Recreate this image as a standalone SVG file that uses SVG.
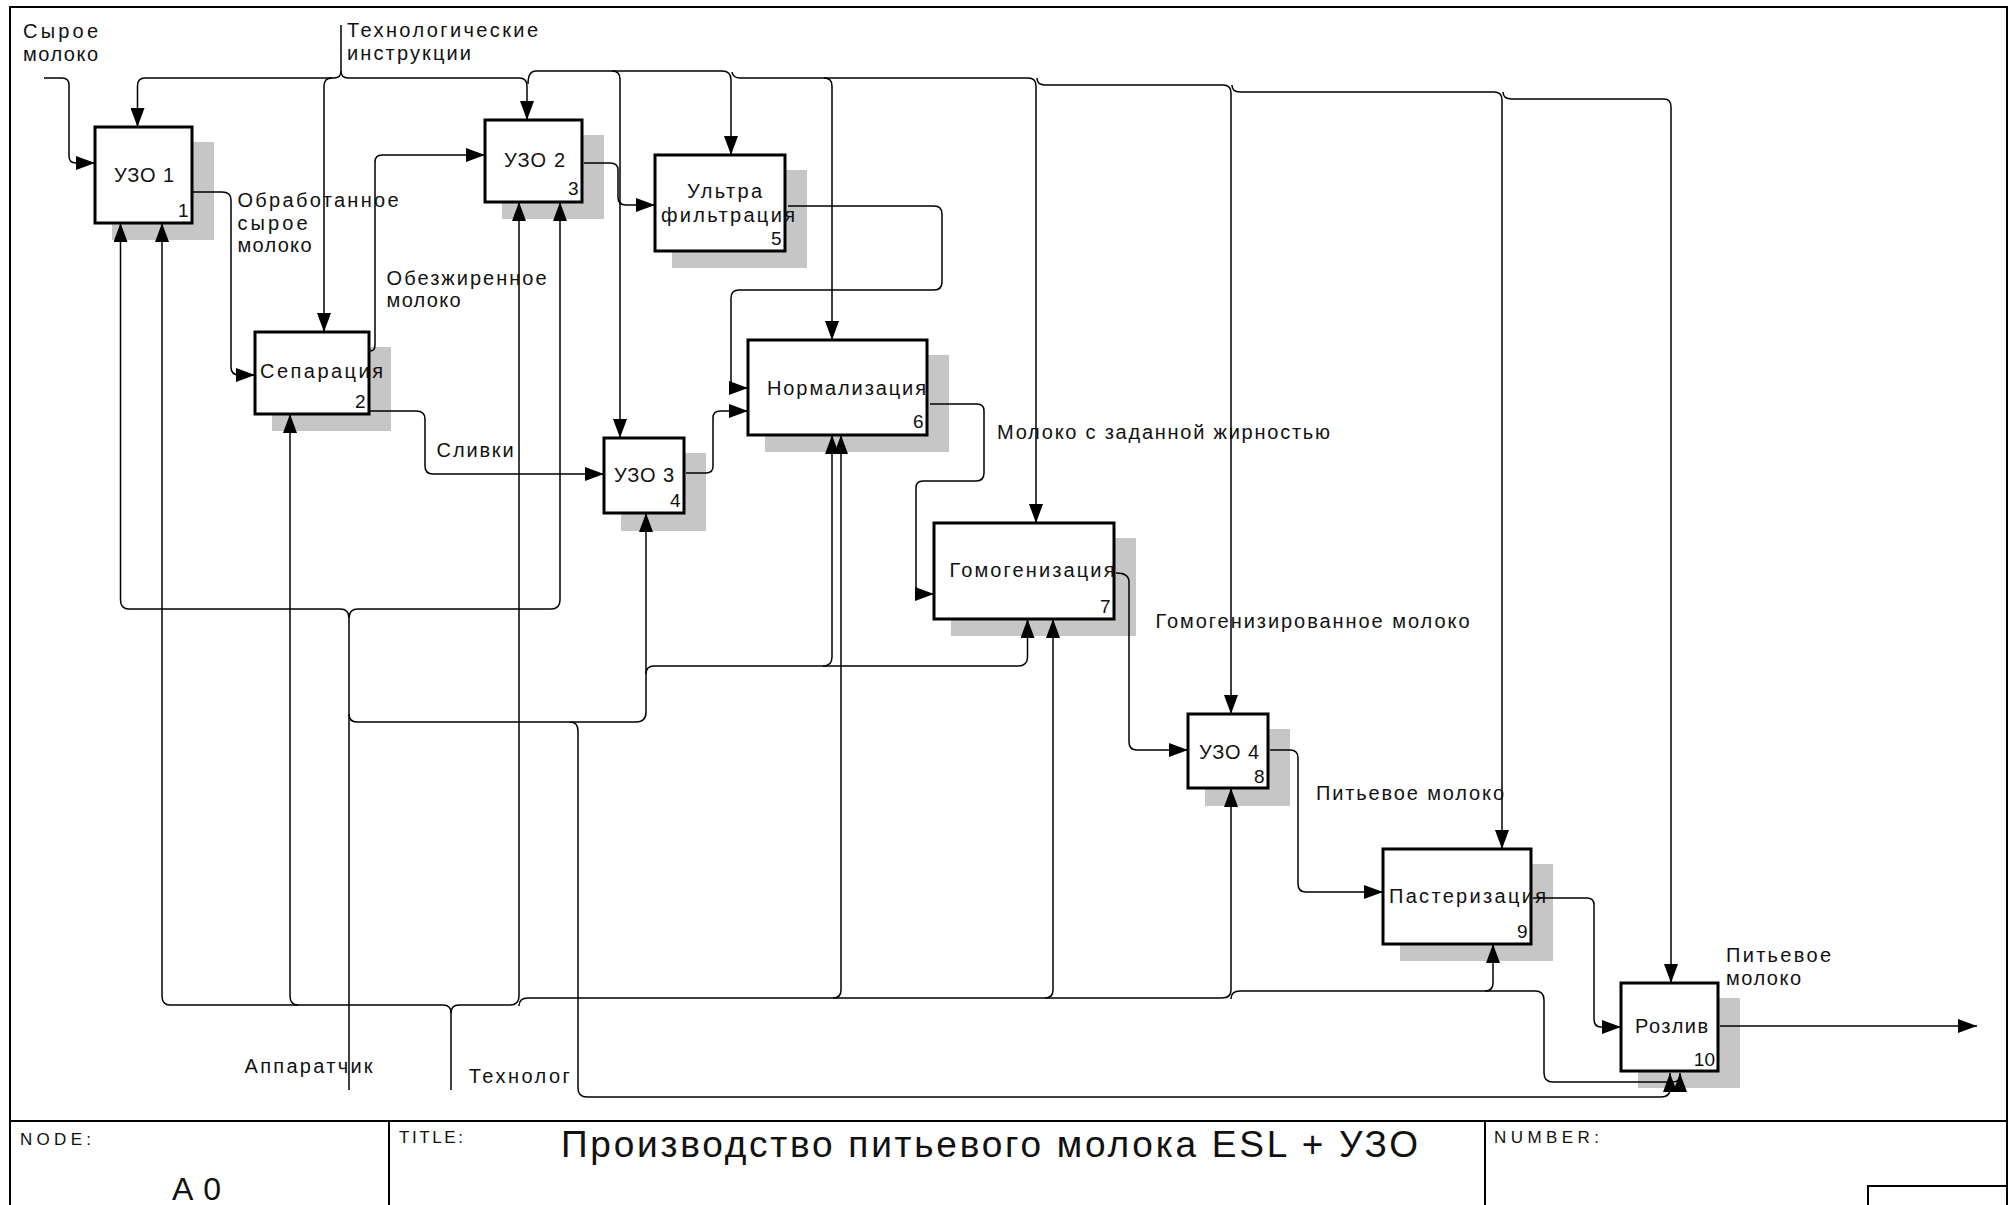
<svg xmlns="http://www.w3.org/2000/svg" width="2015" height="1205" viewBox="0 0 2015 1205">
<style>
text{font-family:"Liberation Sans",Arial,sans-serif;fill:#111}
.lbl{font-size:20px}
.bt{font-size:20px}
.num{font-size:19px;text-anchor:end}
.box{fill:#fff;stroke:#000;stroke-width:3}
.sh{fill:#c6c6c6}
.ln{fill:none;stroke:#000;stroke-width:1.5}
.fr{fill:none;stroke:#000;stroke-width:2}
.hd{font-size:17px}
</style>
<defs>
<marker id="ar" markerUnits="userSpaceOnUse" markerWidth="20" markerHeight="14" refX="19" refY="7" orient="auto">
<path d="M0,0 L19,7 L0,14 z" fill="#000"/>
</marker>
</defs>
<rect width="2015" height="1205" fill="#fff"/>
<g id="frame">
<path class="fr" d="M10,1205 V7 H2007 V1205"/>
<path class="fr" d="M10,1121 H2007 M389,1121 V1205 M1485,1121 V1205 M1868,1205 V1186 H2007"/>
<text class="hd" x="20" y="1145" textLength="71">NODE:</text>
<text x="172" y="1200" font-size="32" textLength="49">A0</text>
<text class="hd" x="399" y="1143" textLength="64">TITLE:</text>
<text x="561" y="1157" font-size="37" textLength="857">Производство питьевого молока ESL + УЗО</text>
<text class="hd" x="1494" y="1143" textLength="105">NUMBER:</text>
</g>
<g id="node1">
<rect class="sh" x="112" y="142" width="102" height="98"/>
<rect class="box" x="95" y="127" width="97" height="96"/>
<text class="bt" x="114" y="182" textLength="60">УЗО 1</text>
<text class="num" x="188.5" y="217">1</text>
</g>
<g id="node2">
<rect class="sh" x="272" y="347" width="119" height="84"/>
<rect class="box" x="255" y="332" width="114" height="82"/>
<text class="bt" x="260" y="378" textLength="123">Сепарация</text>
<text class="num" x="365.5" y="408">2</text>
</g>
<g id="node3">
<rect class="sh" x="502" y="135" width="102" height="84"/>
<rect class="box" x="485" y="120" width="97" height="82"/>
<text class="bt" x="504" y="167" textLength="61">УЗО 2</text>
<text class="num" x="578.5" y="195">3</text>
</g>
<g id="node4">
<rect class="sh" x="621" y="453" width="85" height="78"/>
<rect class="box" x="604" y="438" width="80" height="75"/>
<text class="bt" x="614" y="482" textLength="60">УЗО 3</text>
<text class="num" x="680.5" y="507">4</text>
</g>
<g id="node5">
<rect class="sh" x="672" y="170" width="135" height="98"/>
<rect class="box" x="655" y="155" width="130" height="96"/>
<text class="bt" x="687" y="198" textLength="75">Ультра</text>
<text class="bt" x="661" y="222" textLength="134">фильтрация</text>
<text class="num" x="781.5" y="245">5</text>
</g>
<g id="node6">
<rect class="sh" x="765" y="355" width="184" height="97"/>
<rect class="box" x="748" y="340" width="179" height="95"/>
<text class="bt" x="767" y="395" textLength="159">Нормализация</text>
<text class="num" x="923.5" y="428">6</text>
</g>
<g id="node7">
<rect class="sh" x="951" y="538" width="185" height="98"/>
<rect class="box" x="934" y="523" width="180" height="96"/>
<text class="bt" x="949.5" y="577" textLength="165">Гомогенизация</text>
<text class="num" x="1110.5" y="613">7</text>
</g>
<g id="node8">
<rect class="sh" x="1205" y="729" width="85" height="77"/>
<rect class="box" x="1188" y="714" width="80" height="74"/>
<text class="bt" x="1199" y="759" textLength="60">УЗО 4</text>
<text class="num" x="1264.5" y="783">8</text>
</g>
<g id="node9">
<rect class="sh" x="1400" y="864" width="153" height="97"/>
<rect class="box" x="1383" y="849" width="148" height="95"/>
<text class="bt" x="1389" y="903" textLength="157">Пастеризация</text>
<text class="num" x="1527.5" y="938">9</text>
</g>
<g id="node10">
<rect class="sh" x="1638" y="998" width="102" height="90"/>
<rect class="box" x="1621" y="983" width="97" height="88"/>
<text class="bt" x="1635" y="1033" textLength="73">Розлив</text>
<text class="num" x="1715" y="1066">10</text>
</g>
<g id="connectors">
<path class="ln" marker-end="url(#ar)" d="M44,78 H62 Q69,78 69,85 V156 Q69,163 76,163 H95"/>
<path class="ln" marker-end="url(#ar)" d="M341,25 V71 Q341,78 334,78 H145 Q137.5,78 137.5,86 V127"/>
<path class="ln" marker-end="url(#ar)" d="M332,78 Q324,78 324,86 V332"/>
<path class="ln" marker-end="url(#ar)" d="M341,71 Q341,78 348,78 H519 Q527,78 527,86 V120"/>
<path class="ln" marker-end="url(#ar)" d="M528,84 Q528,71 536,71 H612 Q620,71 620,79 V438"/>
<path class="ln" marker-end="url(#ar)" d="M612,71 H722 Q731,71 731,80 V155"/>
<path class="ln" marker-end="url(#ar)" d="M732,72 Q733,78 740,78 H824 Q832,78 832,86 V340"/>
<path class="ln" marker-end="url(#ar)" d="M824,78 H1028 Q1036,78 1036,86 V523"/>
<path class="ln" marker-end="url(#ar)" d="M1037,78 Q1037,85 1045,85 H1223 Q1231,85 1231,93 V714"/>
<path class="ln" marker-end="url(#ar)" d="M1232,85 Q1232,92 1240,92 H1494 Q1502,92 1502,100 V849"/>
<path class="ln" marker-end="url(#ar)" d="M1503,92 Q1503,99 1512,99 H1664 Q1671,99 1671,107 V983"/>
<path class="ln" marker-end="url(#ar)" d="M193,192 H222 Q231,192 231,200 V367 Q231,375 239,375 H255"/>
<path class="ln" marker-end="url(#ar)" d="M370,351 Q375,351 375,345 V162 Q375,155 382,155 H485"/>
<path class="ln" marker-end="url(#ar)" d="M370,411 H416 Q425,411 425,419 V466 Q425,474 433,474 H604"/>
<path class="ln" marker-end="url(#ar)" d="M584,163 H610 Q618,163 618,170 V197 Q618,205 626,205 H655"/>
<path class="ln" marker-end="url(#ar)" d="M788,206 H934 Q942,206 942,214 V282 Q942,290 934,290 H739 Q731,290 731,298 V380 Q731,388 738,388 H748"/>
<path class="ln" marker-end="url(#ar)" d="M686,473 H706 Q713,473 713,466 V418 Q713,411 720,411 H748"/>
<path class="ln" marker-end="url(#ar)" d="M930,404 H977 Q984,404 984,411 V473 Q984,481 976,481 H923 Q916,481 916,488 V587 Q916,594 922,594 H934"/>
<path class="ln" marker-end="url(#ar)" d="M1116,573 Q1129,573 1129,582 V742 Q1129,750 1137,750 H1188"/>
<path class="ln" marker-end="url(#ar)" d="M1270,750 H1290 Q1298,750 1298,758 V884 Q1298,892 1306,892 H1383"/>
<path class="ln" marker-end="url(#ar)" d="M1533,898 H1587 Q1594,898 1594,905 V1019 Q1594,1027 1601,1027 H1621"/>
<path class="ln" marker-end="url(#ar)" d="M1720,1026 H1977"/>
<path class="ln" marker-end="url(#ar)" d="M349,1090 V618 Q349,609 340,609 H129 Q120.5,609 120.5,600 V223"/>
<path class="ln" marker-end="url(#ar)" d="M349,618 Q349,609 358,609 H551 Q560,609 560,600 V202"/>
<path class="ln" marker-end="url(#ar)" d="M349,714 Q349,722 357,722 H636 Q646,722 646,712 V513"/>
<path class="ln" marker-end="url(#ar)" d="M646,674 Q646,666 654,666 H1018 Q1027.5,666 1027.5,657 V619"/>
<path class="ln" marker-end="url(#ar)" d="M823,666 Q832,666 832,657 V435"/>
<path class="ln" marker-end="url(#ar)" d="M570,722 Q578,722 578,731 V1088 Q578,1097 587,1097 H1661 Q1670,1097 1670,1089 V1073"/>
<path class="ln" marker-end="url(#ar)" d="M451,1090 V1013 Q451,1005 443,1005 H170 Q162,1005 162,996 V223"/>
<path class="ln" marker-end="url(#ar)" d="M298,1005 Q290,1005 290,996 V414"/>
<path class="ln" marker-end="url(#ar)" d="M451,1013 Q451,1005 459,1005 H510 Q519,1005 519,996 V202"/>
<path class="ln" marker-end="url(#ar)" d="M519,1006 Q519,998 528,998 H1222 Q1231,998 1231,990 V788"/>
<path class="ln" marker-end="url(#ar)" d="M833,998 Q841,998 841,990 V435"/>
<path class="ln" marker-end="url(#ar)" d="M1045,998 Q1053,998 1053,990 V619"/>
<path class="ln" marker-end="url(#ar)" d="M1231,999 Q1231,991 1240,991 H1535 Q1544,991 1544,1000 V1073 Q1544,1082 1553,1082 H1672 Q1680,1082 1680,1076 V1073"/>
<path class="ln" marker-end="url(#ar)" d="M1485,991 Q1493,991 1493,983 V944"/>
</g>
<g id="labels">
<text class="lbl" x="23" y="38" textLength="75">Сырое</text>
<text class="lbl" x="23" y="61" textLength="75">молоко</text>
<text class="lbl" x="347" y="37" textLength="191">Технологические</text>
<text class="lbl" x="347" y="60" textLength="124">инструкции</text>
<text class="lbl" x="237.5" y="207" textLength="161">Обработанное</text>
<text class="lbl" x="237.5" y="230" textLength="70">сырое</text>
<text class="lbl" x="237.5" y="252" textLength="74">молоко</text>
<text class="lbl" x="386.6" y="285" textLength="160">Обезжиренное</text>
<text class="lbl" x="386.6" y="307" textLength="74">молоко</text>
<text class="lbl" x="436.6" y="457" textLength="77">Сливки</text>
<text class="lbl" x="997" y="439" textLength="333">Молоко с заданной жирностью</text>
<text class="lbl" x="1155.5" y="628" textLength="314">Гомогенизированное молоко</text>
<text class="lbl" x="1316" y="800" textLength="188">Питьевое молоко</text>
<text class="lbl" x="1726" y="962" textLength="105">Питьевое</text>
<text class="lbl" x="1726" y="985" textLength="75">молоко</text>
<text class="lbl" x="244.6" y="1073" textLength="128">Аппаратчик</text>
<text class="lbl" x="468.75" y="1083" textLength="101">Технолог</text>
</g>
</svg>
